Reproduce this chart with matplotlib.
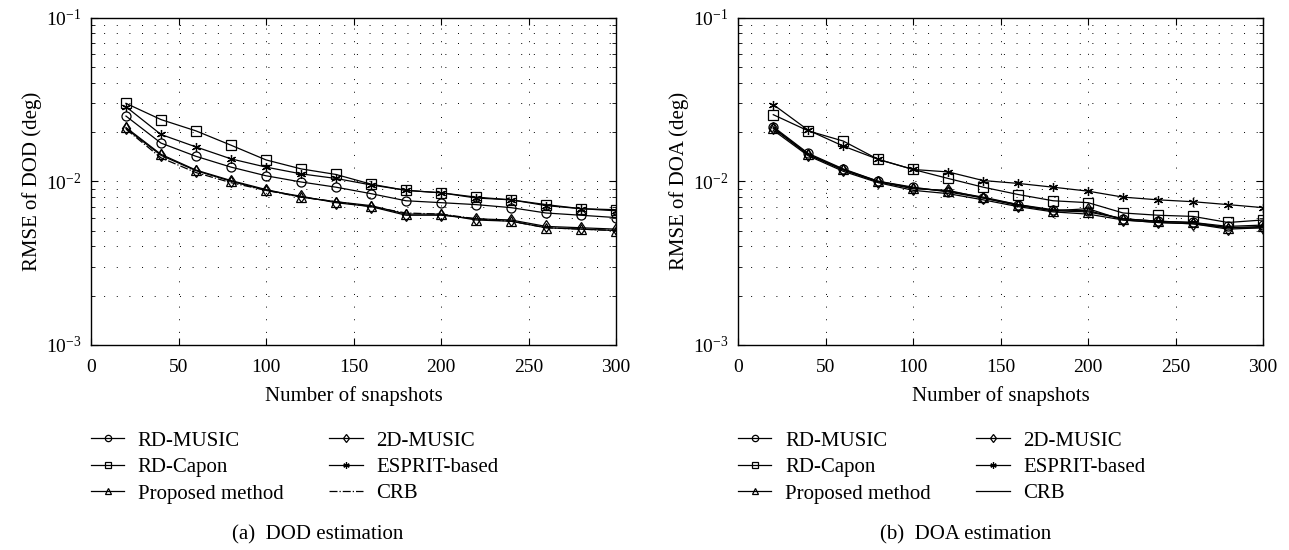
import numpy as np
import matplotlib
matplotlib.use("Agg")
import matplotlib.pyplot as plt
from matplotlib.ticker import LogLocator, NullFormatter, FixedLocator

plt.rcParams['font.family'] = ['Liberation Serif', 'DejaVu Serif']
plt.rcParams['mathtext.fontset'] = 'stix'

# ---------------- data ----------------
snapshots = [20, 40, 60, 80, 100, 120, 140, 160, 180, 200, 220, 240, 260, 280, 300]

# (a) DOD
rd_music_dod = [0.0250, 0.0171, 0.0142, 0.0122, 0.0108, 0.0099, 0.0092, 0.0084,
                0.0076, 0.0074, 0.0072, 0.0069, 0.0064, 0.0062, 0.0060]
rd_capon_dod = [0.0299, 0.0238, 0.0203, 0.0166, 0.0135, 0.0119, 0.0110, 0.0096,
                0.0088, 0.0085, 0.0080, 0.0077, 0.0072, 0.0068, 0.0067]
proposed_dod = [0.0213, 0.0146, 0.0117, 0.0101, 0.0089, 0.0080, 0.0075, 0.0071,
                0.0063, 0.0063, 0.0058, 0.0057, 0.0052, 0.0051, 0.0050]
music2d_dod = [0.0210, 0.0144, 0.0116, 0.0100, 0.0088, 0.0081, 0.0074, 0.0070,
               0.0062, 0.0062, 0.0059, 0.0058, 0.0053, 0.0052, 0.0051]
esprit_dod = [0.0285, 0.0193, 0.0162, 0.0137, 0.0122, 0.0111, 0.0104, 0.0095,
              0.0088, 0.0085, 0.0079, 0.0077, 0.0071, 0.0068, 0.0066]
crb_dod = [0.0208, 0.0139, 0.0113, 0.0098, 0.0088, 0.0080, 0.0075, 0.0070,
           0.0064, 0.0063, 0.0059, 0.0057, 0.0052, 0.0051, 0.0050]

# (b) DOA
rd_music_doa = [0.0215, 0.0148, 0.0119, 0.0100, 0.0092, 0.0086, 0.0079, 0.0072,
                0.0067, 0.0066, 0.0059, 0.0057, 0.0056, 0.0053, 0.0054]
rd_capon_doa = [0.0255, 0.0203, 0.0176, 0.0136, 0.0118, 0.0104, 0.0092, 0.0083,
                0.0076, 0.0074, 0.0064, 0.0062, 0.0061, 0.0056, 0.0058]
proposed_doa = [0.0212, 0.0146, 0.0118, 0.0100, 0.0091, 0.0087, 0.0080, 0.0072,
                0.0066, 0.0065, 0.0059, 0.0057, 0.0056, 0.0052, 0.0053]
music2d_doa = [0.0210, 0.0145, 0.0117, 0.0099, 0.0090, 0.0088, 0.0079, 0.0071,
               0.0066, 0.0068, 0.0058, 0.0056, 0.0055, 0.0051, 0.0052]
esprit_doa = [0.0294, 0.0205, 0.0164, 0.0136, 0.0118, 0.0114, 0.0101, 0.0097,
              0.0092, 0.0087, 0.0080, 0.0077, 0.0075, 0.0072, 0.0069]
crb_doa = [0.0205, 0.0143, 0.0115, 0.0098, 0.0088, 0.0084, 0.0077, 0.0070,
           0.0065, 0.0063, 0.0058, 0.0056, 0.0055, 0.0052, 0.0052]

W, H = 1289, 550
fig = plt.figure(figsize=(W / 100, H / 100), dpi=100)

FS = 15
TFS = 14
grid_style = dict(color='black', linewidth=0.7, linestyle=(0, (1, 12)))


def draw_panel(rect, data, crb_style, ylabel, caption, cap_x, leg_x):
    ax = fig.add_axes(rect)
    rd_music, rd_capon, proposed, music2d, esprit, crb = data
    kw = dict(color='black', linewidth=0.9, markersize=6.5, fillstyle='none',
              markeredgewidth=0.9)
    h1, = ax.plot(snapshots, rd_music, marker='o', label='RD-MUSIC', **kw)
    h2, = ax.plot(snapshots, rd_capon, marker='s', label='RD-Capon', **kw)
    h3, = ax.plot(snapshots, proposed, marker='^', label='Proposed method', **kw)
    h4, = ax.plot(snapshots, music2d, marker='d', label='2D-MUSIC', **kw)
    h5, = ax.plot(snapshots, esprit, marker=(6, 2, 0), label='ESPRIT-based', **kw)
    h6, = ax.plot(snapshots, crb, linestyle=crb_style, color='black',
                  linewidth=0.9, label='CRB')

    ax.set_yscale('log')
    ax.set_xlim(0, 300)
    ax.set_ylim(1e-3, 1e-1)
    ax.xaxis.set_major_locator(FixedLocator([0, 50, 100, 150, 200, 250, 300]))
    ax.yaxis.set_major_locator(LogLocator(base=10, numticks=10))
    ax.yaxis.set_minor_locator(LogLocator(base=10, subs=np.arange(2, 10), numticks=10))
    ax.yaxis.set_minor_formatter(NullFormatter())
    ax.tick_params(which='both', direction='in', top=True, right=True,
                   labelsize=TFS, colors='black')
    ax.tick_params(which='major', length=5, width=0.8)
    ax.tick_params(which='minor', length=3, width=0.6)
    ax.tick_params(axis='x', which='major', pad=10)
    ax.tick_params(axis='y', which='major', pad=7)
    ax.grid(True, which='major', axis='x', **grid_style)
    ax.grid(True, which='both', axis='y', **grid_style)
    for s in ax.spines.values():
        s.set_linewidth(1.0)
        s.set_color('black')
    ax.set_xlabel('Number of snapshots', fontsize=FS, labelpad=7)
    ax.set_ylabel(ylabel, fontsize=FS, labelpad=3)

    fig.legend(handles=[h1, h2, h3, h4, h5, h6], ncol=2, frameon=False,
               loc='upper left', bbox_to_anchor=(leg_x / W, 1 - 431 / H),
               fontsize=FS, borderpad=0, borderaxespad=0, handlelength=1.6,
               handletextpad=0.65, columnspacing=2.2, labelspacing=0.33,
               markerscale=0.7)
    fig.text(cap_x / W, 1 - 535 / H, caption, fontsize=FS,
             ha='center', va='center')
    return ax


top_px, bot_px = 17.5, 345.0
bottom = 1 - bot_px / H
height = (bot_px - top_px) / H
draw_panel([91 / W, bottom, 525 / W, height],
           [rd_music_dod, rd_capon_dod, proposed_dod, music2d_dod, esprit_dod, crb_dod],
           '-.', 'RMSE of DOD (deg)', '(a)  DOD estimation', 318, 91)
draw_panel([738.3 / W, bottom, 524.7 / W, height],
           [rd_music_doa, rd_capon_doa, proposed_doa, music2d_doa, esprit_doa, crb_doa],
           '-', 'RMSE of DOA (deg)', '(b)  DOA estimation', 966, 738)

fig.savefig('out.png', dpi=100)
